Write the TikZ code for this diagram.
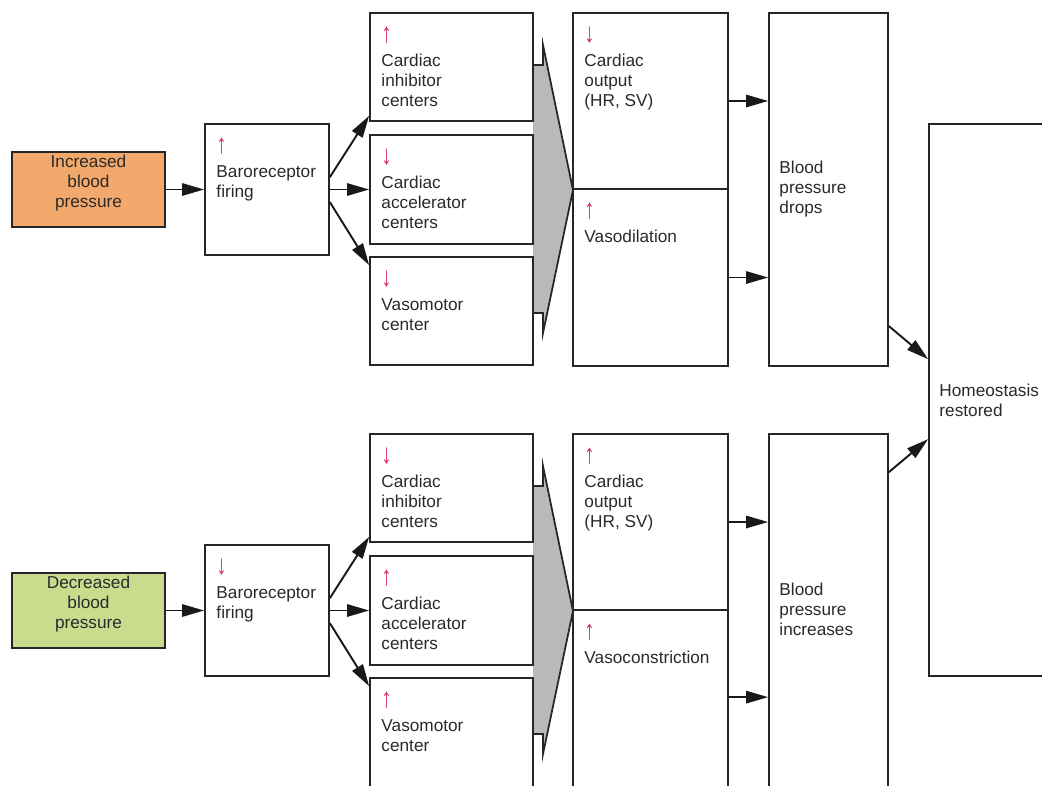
\documentclass[tikz,border=0pt]{standalone}
\usepackage{fontspec}
\setmainfont{Liberation Sans}
\usepackage{graphicx}
\usetikzlibrary{arrows.meta,calc,fit}
\definecolor{cinc}{HTML}{F4A96C}
\definecolor{cdec}{HTML}{C9DC8E}
\definecolor{cmark}{HTML}{D6246E}
\definecolor{cgrey}{HTML}{B9B9BB}
\definecolor{ctext}{HTML}{2A2A2A}
\newcommand{\upmark}{\textcolor{cmark}{\scalebox{1.2}[1.6]{↑}}}
\newcommand{\dnmark}{\textcolor{cmark}{\scalebox{1.2}[1.6]{↓}}}
\newcommand{\boxfont}{\fontsize{9.8}{11.4}\selectfont}
\tikzset{
  box/.style={draw=black!85, line width=1pt, fill=white, inner sep=0pt},
  boxtxt/.style={anchor=north west, align=left, inner sep=0pt, text=ctext},
  flow/.style={-{Triangle[length=12.5pt,width=7pt]}, line width=1.1pt, black!90},
  bigarrow/.style={draw=black!85, line width=1pt, fill=cgrey, line join=miter},
}

\begin{document}
\begin{tikzpicture}[x=0.02cm, y=-0.02cm, font=\boxfont]
\useasboundingbox (0,0) rectangle (1042,785);
\clip (0,0) rectangle (1042,785);
% broad arrows behind the centre columns
\foreach \dy in {0,421}
  \draw[bigarrow] (533,65+\dy) -- (543,65+\dy) -- (543,45+\dy) -- (573,190+\dy) -- (543,333+\dy) -- (543,313+\dy) -- (533,313+\dy);
% pressure goes up
\node[box, fill=cinc, align=center, text=ctext, fit={(12,152) (165,227)}] (incbp) {Increased\\blood\\pressure};
\node[box, fit={(205,124) (329,255)}] (barou) {};
\node[box, fit={(370,13) (533,121)}] (inhu) {};
\node[box, fit={(370,135) (533,244)}] (accu) {};
\node[box, fit={(370,257) (533,365)}] (vmu) {};
\node[box, fit={(573,13) (728,189)}] (cou) {};
\node[box, fit={(573,189) (728,366)}] (vdil) {};
\node[box, fit={(769,13) (888,366)}] (bpu) {};
\node[boxtxt] (barou-t) at ($(barou.north west)+(12,15)$) {\upmark\\[2.2pt]Baroreceptor\\firing};
\node[boxtxt] (inhu-t) at ($(inhu.north west)+(12,15)$) {\upmark\\[2.2pt]Cardiac\\inhibitor\\centers};
\node[boxtxt] (accu-t) at ($(accu.north west)+(12,15)$) {\dnmark\\[2.2pt]Cardiac\\accelerator\\centers};
\node[boxtxt] (vmu-t) at ($(vmu.north west)+(12,15)$) {\dnmark\\[2.2pt]Vasomotor\\center};
\node[boxtxt] (cou-t) at ($(cou.north west)+(12,15)$) {\dnmark\\[2.2pt]Cardiac\\output\\(HR, SV)};
\node[boxtxt] (vdil-t) at ($(vdil.north west)+(12,15)$) {\upmark\\[2.2pt]Vasodilation};
\node[boxtxt, anchor=west] (bpu-t) at ($(bpu.west)+(11,0)$) {Blood\\pressure\\drops};
% pressure goes down
\node[box, fill=cdec, align=center, text=ctext, fit={(12,573) (165,648)}] (decbp) {Decreased\\blood\\pressure};
\node[box, fit={(205,545) (329,676)}] (barod) {};
\node[box, fit={(370,434) (533,542)}] (inhd) {};
\node[box, fit={(370,556) (533,665)}] (accd) {};
\node[box, fit={(370,678) (533,800)}] (vmd) {};
\node[box, fit={(573,434) (728,610)}] (cod) {};
\node[box, fit={(573,610) (728,800)}] (vcon) {};
\node[box, fit={(769,434) (888,800)}] (bpd) {};
\node[boxtxt] (barod-t) at ($(barod.north west)+(12,15)$) {\dnmark\\[2.2pt]Baroreceptor\\firing};
\node[boxtxt] (inhd-t) at ($(inhd.north west)+(12,15)$) {\dnmark\\[2.2pt]Cardiac\\inhibitor\\centers};
\node[boxtxt] (accd-t) at ($(accd.north west)+(12,15)$) {\upmark\\[2.2pt]Cardiac\\accelerator\\centers};
\node[boxtxt] (vmd-t) at ($(vmd.north west)+(12,15)$) {\upmark\\[2.2pt]Vasomotor\\center};
\node[boxtxt] (cod-t) at ($(cod.north west)+(12,15)$) {\upmark\\[2.2pt]Cardiac\\output\\(HR, SV)};
\node[boxtxt] (vcon-t) at ($(vcon.north west)+(12,15)$) {\upmark\\[2.2pt]Vasoconstriction};
\node[boxtxt, anchor=west] (bpd-t) at ($(bpd.north west)+(11,176)$) {Blood\\pressure\\increases};
% outcome
\node[box, fit={(929,124) (1100,676)}] (home) {};
\node[boxtxt, anchor=west] (home-t) at ($(home.west)+(11,0)$) {Homeostasis\\restored};
% connectors
\draw[flow] (incbp.east) -- (barou.west);
\draw[flow] ($(barou.north east)+(0,54)$) -- ($(inhu.south west)+(0,-6)$);
\draw[flow] (barou.east) -- (accu.west);
\draw[flow] ($(barou.north east)+(0,79)$) -- ($(vmu.north west)+(0,9)$);
\draw[flow] (cou.east) -- (cou.east -| bpu.west);
\draw[flow] (vdil.east) -- (vdil.east -| bpu.west);
\draw[flow] ($(bpu.north east)+(0,314)$) -- ($(home.north west)+(0,236)$);
\draw[flow] (decbp.east) -- (barod.west);
\draw[flow] ($(barod.north east)+(0,54)$) -- ($(inhd.south west)+(0,-6)$);
\draw[flow] (barod.east) -- (accd.west);
\draw[flow] ($(barod.north east)+(0,79)$) -- ($(vmd.north west)+(0,9)$);
\draw[flow] (cod.east) -- (cod.east -| bpd.west);
\draw[flow] ($(vcon.north west)+(155,88)$) -- ($(bpd.north west)+(0,264)$);
\draw[flow] ($(bpd.north east)+(0,39)$) -- ($(home.north west)+(0,316)$);
\end{tikzpicture}
\end{document}
